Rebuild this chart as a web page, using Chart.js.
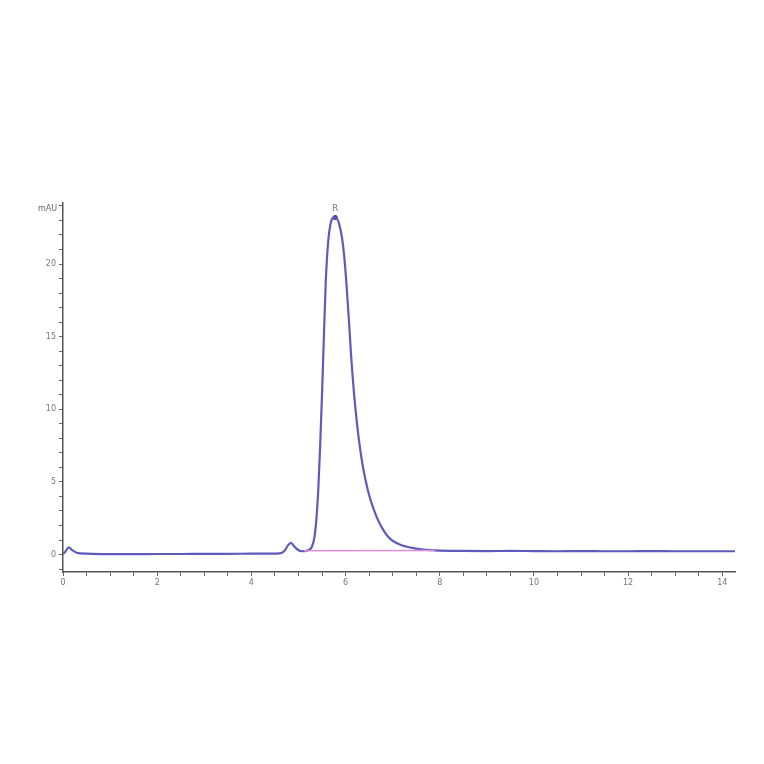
<!DOCTYPE html>
<html>
<head>
<meta charset="utf-8">
<script src="https://cdn.jsdelivr.net/npm/chart.js@4"></script>
<style>
  html, body { margin: 0; padding: 0; background: #fff; }
  #wrap { width: 764px; height: 764px; }
</style>
</head>
<body>
<div id="wrap"><canvas id="canvas" width="764" height="764"></canvas></div>
<script>
// retention time (min) and signal (mAU)
const times = [0, 0.05, 0.12, 0.2, 0.3, 0.5, 1, 1.5, 2, 2.5, 3, 3.5, 4, 4.4, 4.6, 4.7, 4.78, 4.84, 4.9, 4.98, 5.08, 5.16,
  5.22, 5.28, 5.34, 5.38, 5.42, 5.46, 5.5, 5.54, 5.58, 5.63, 5.69, 5.75, 5.8, 5.86, 5.92, 5.97, 6.02, 6.07, 6.12, 6.18,
  6.24, 6.3, 6.36, 6.42, 6.5, 6.6, 6.7, 6.8, 6.9, 7.0, 7.15, 7.35, 7.6, 7.9,
  8.5, 9, 9.5, 10, 10.5, 11, 11.5, 12, 12.5, 13, 13.5, 14, 14.27];
const signal = [0.05, 0.2, 0.5, 0.3, 0.12, 0.06, 0.03, 0.03, 0.04, 0.04, 0.05, 0.05, 0.06, 0.06, 0.08, 0.25, 0.65, 0.8, 0.6, 0.35, 0.23, 0.25,
  0.32, 0.5, 1.2, 2.4, 4.4, 7.4, 11, 15, 18.8, 21.5, 22.9, 23.2, 23.2, 22.8, 21.9, 20.6, 18.6, 16.2, 13.6, 11.1,
  9.1, 7.5, 6.2, 5.2, 4.1, 3.1, 2.3, 1.7, 1.25, 0.95, 0.7, 0.5, 0.36, 0.29,
  0.25, 0.24, 0.25, 0.24, 0.23, 0.24, 0.23, 0.23, 0.24, 0.23, 0.23, 0.23, 0.23];

// integration baseline under the main peak
const baseTimes = [5.12, 7.9];
const baseSignal = [0.27, 0.28];

// peak apex
const peakTime = 5.78;
const peakValue = 23.2;
const peakLabel = 'R';

const xTicks = [0, 2, 4, 6, 8, 10, 12, 14];
const yTicks = [0, 5, 10, 15, 20];
const yUnit = 'mAU';

const ctx = document.getElementById('canvas').getContext('2d');

const labelsPlugin = {
  id: 'extraLabels',
  afterDatasetsDraw(chart) {
    const c = chart.ctx;
    const x = chart.scales.x, y = chart.scales.y;
    c.save();
    c.fillStyle = '#666';
    c.font = '8px "DejaVu Sans"';
    c.textAlign = 'right';
    c.textBaseline = 'middle';
    c.fillText(yUnit, chart.chartArea.left - 6, chart.chartArea.top + 6);
    c.textAlign = 'center';
    c.textBaseline = 'bottom';
    c.fillStyle = '#777';
    c.font = '9px "DejaVu Sans"';
    c.fillText(peakLabel, x.getPixelForValue(peakTime), y.getPixelForValue(peakValue) - 4);
    c.restore();
  }
};

new Chart(ctx, {
  type: 'line',
  data: {
    datasets: [{
      data: baseTimes.map((t, i) => ({ x: t, y: baseSignal[i] })),
      borderColor: '#e78fd6',
      borderWidth: 1.5,
      pointRadius: 0,
      tension: 0
    }, {
      data: times.map((t, i) => ({ x: t, y: signal[i] })),
      borderColor: '#5f5abb',
      borderWidth: 2.2,
      pointRadius: 0,
      cubicInterpolationMode: 'monotone'
    }, {
      data: [{ x: peakTime, y: peakValue }],
      showLine: false,
      pointRadius: 2.5,
      pointBackgroundColor: '#3a3590',
      pointBorderWidth: 0
    }]
  },
  options: {
    responsive: false,
    animation: false,
    layout: { padding: { left: 0, right: 29, top: 203, bottom: 168 } },
    plugins: { legend: { display: false }, tooltip: { enabled: false } },
    scales: {
      x: {
        type: 'linear',
        min: 0,
        max: 14.27,
        afterBuildTicks(scale) {
          const t = [];
          for (let v = 0; v <= 14; v += 0.5) t.push({ value: v });
          scale.ticks = t;
        },
        afterFit(scale) { scale.height = 24; },
        border: { color: '#555', width: 1.5 },
        grid: { drawOnChartArea: false, tickLength: 4, color: '#666' },
        ticks: {
          color: '#777',
          font: { size: 8, family: 'DejaVu Sans' },
          maxRotation: 0,
          autoSkip: false,
          padding: 2,
          callback: v => xTicks.includes(v) ? String(v) : ''
        }
      },
      y: {
        min: -1.2,
        max: 24.2,
        afterBuildTicks(scale) {
          const t = [];
          for (let v = -1; v <= 24; v += 1) t.push({ value: v });
          scale.ticks = t;
        },
        afterFit(scale) { scale.width = 63; },
        border: { color: '#555', width: 1.5 },
        grid: { drawOnChartArea: false, tickLength: 4, color: '#666' },
        ticks: {
          color: '#777',
          font: { size: 8, family: 'DejaVu Sans' },
          autoSkip: false,
          padding: 3,
          callback: v => yTicks.includes(v) ? String(v) : ''
        }
      }
    }
  },
  plugins: [labelsPlugin]
});
</script>
</body>
</html>
